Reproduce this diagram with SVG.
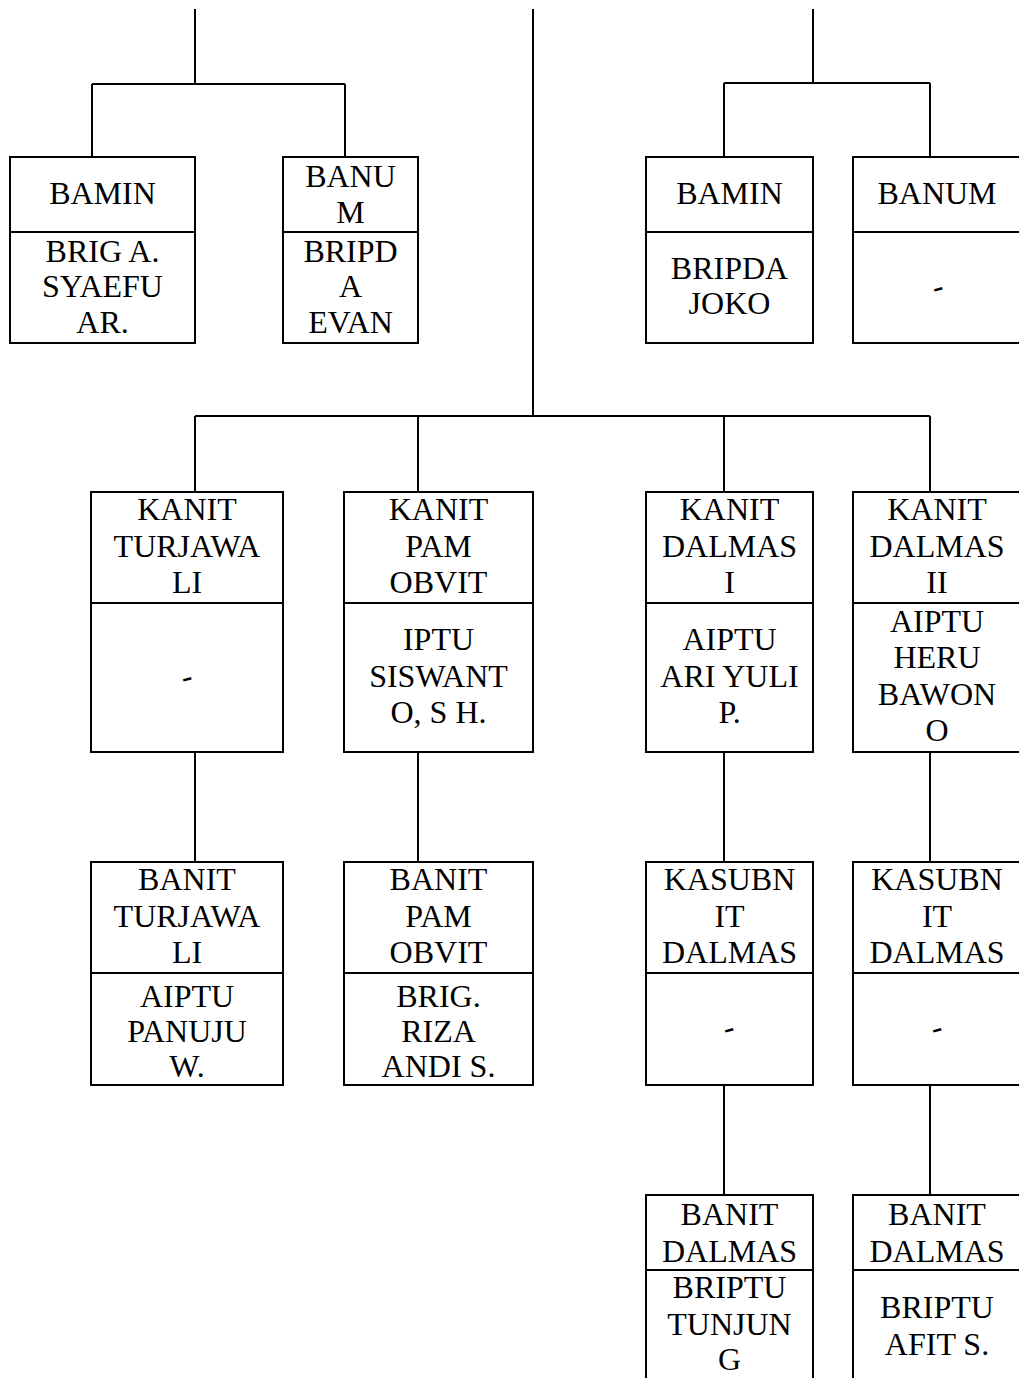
<svg xmlns="http://www.w3.org/2000/svg" width="1019" height="1378" viewBox="0 0 1019 1378">
<style>
.b{fill:#fff;stroke:#000;stroke-width:2}
.d{stroke:#000;stroke-width:2}
.c{fill:none;stroke:#000;stroke-width:2}
text{font-family:"Liberation Serif","Times New Roman",serif;font-size:32px;fill:#000;text-anchor:middle}
.dash{font-style:italic}
</style>
<rect width="1019" height="1378" fill="#fff"/>
<g id="connectors">
<path class="c" d="M195 9V84M92 84H345M92 84V157M345 84V157"/>
<path class="c" d="M533 9V416"/>
<path class="c" d="M813 9V83M724 83H930M724 83V157M930 83V157"/>
<path class="c" d="M195 416H930M195 416V492M418 416V492M724 416V492M930 416V492"/>
<path class="c" d="M195 752V862M418 752V862M724 752V862M930 752V862"/>
<path class="c" d="M724 1085V1195M930 1085V1195"/>
</g>
<g id="n1">
<rect class="b" x="10" y="157" width="185" height="186"/><line class="d" x1="10" y1="232" x2="195" y2="232"/>
<text x="102.5" y="204">BAMIN</text>
<text x="102.5" y="262">BRIG A.</text><text x="102.5" y="297">SYAEFU</text><text x="102.5" y="333">AR.</text>
</g>
<g id="n2">
<rect class="b" x="283" y="157" width="135" height="186"/><line class="d" x1="283" y1="232" x2="418" y2="232"/>
<text x="350.5" y="187">BANU</text><text x="350.5" y="223">M</text>
<text x="350.5" y="262">BRIPD</text><text x="350.5" y="297">A</text><text x="350.5" y="333">EVAN</text>
</g>
<g id="n3">
<rect class="b" x="646" y="157" width="167" height="186"/><line class="d" x1="646" y1="232" x2="813" y2="232"/>
<text x="729.5" y="204">BAMIN</text>
<text x="729.5" y="279">BRIPDA</text><text x="729.5" y="314">JOKO</text>
</g>
<g id="n4">
<rect class="b" x="853" y="157" width="170" height="186"/><line class="d" x1="853" y1="232" x2="1023" y2="232"/>
<text x="937" y="204">BANUM</text>
<text class="dash" x="938" y="297" transform="rotate(-15 938 289)">-</text>
</g>
<g id="n5">
<rect class="b" x="91" y="492" width="192" height="260"/><line class="d" x1="91" y1="603" x2="283" y2="603"/>
<text x="187" y="520">KANIT</text><text x="187" y="557">TURJAWA</text><text x="187" y="593">LI</text>
<text class="dash" x="187" y="687" transform="rotate(-15 187 679)">-</text>
</g>
<g id="n6">
<rect class="b" x="344" y="492" width="189" height="260"/><line class="d" x1="344" y1="603" x2="533" y2="603"/>
<text x="438.5" y="520">KANIT</text><text x="438.5" y="557">PAM</text><text x="438.5" y="593">OBVIT</text>
<text x="438.5" y="650">IPTU</text><text x="438.5" y="687">SISWANT</text><text x="438.5" y="723">O, S H.</text>
</g>
<g id="n7">
<rect class="b" x="646" y="492" width="167" height="260"/><line class="d" x1="646" y1="603" x2="813" y2="603"/>
<text x="729.5" y="520">KANIT</text><text x="729.5" y="557">DALMAS</text><text x="729.5" y="593">I</text>
<text x="729.5" y="650">AIPTU</text><text x="729.5" y="687">ARI YULI</text><text x="729.5" y="723">P.</text>
</g>
<g id="n8">
<rect class="b" x="853" y="492" width="170" height="260"/><line class="d" x1="853" y1="603" x2="1023" y2="603"/>
<text x="937" y="520">KANIT</text><text x="937" y="557">DALMAS</text><text x="937" y="593">II</text>
<text x="937" y="632">AIPTU</text><text x="937" y="668">HERU</text><text x="937" y="705">BAWON</text><text x="937" y="741">O</text>
</g>
<g id="n9">
<rect class="b" x="91" y="862" width="192" height="223"/><line class="d" x1="91" y1="973" x2="283" y2="973"/>
<text x="187" y="890">BANIT</text><text x="187" y="927">TURJAWA</text><text x="187" y="963">LI</text>
<text x="187" y="1007">AIPTU</text><text x="187" y="1042">PANUJU</text><text x="187" y="1077">W.</text>
</g>
<g id="n10">
<rect class="b" x="344" y="862" width="189" height="223"/><line class="d" x1="344" y1="973" x2="533" y2="973"/>
<text x="438.5" y="890">BANIT</text><text x="438.5" y="927">PAM</text><text x="438.5" y="963">OBVIT</text>
<text x="438.5" y="1007">BRIG.</text><text x="438.5" y="1042">RIZA</text><text x="438.5" y="1077">ANDI S.</text>
</g>
<g id="n11">
<rect class="b" x="646" y="862" width="167" height="223"/><line class="d" x1="646" y1="973" x2="813" y2="973"/>
<text x="729.5" y="890">KASUBN</text><text x="729.5" y="927">IT</text><text x="729.5" y="963">DALMAS</text>
<text class="dash" x="729" y="1038" transform="rotate(-15 729 1030)">-</text>
</g>
<g id="n12">
<rect class="b" x="853" y="862" width="170" height="223"/><line class="d" x1="853" y1="973" x2="1023" y2="973"/>
<text x="937" y="890">KASUBN</text><text x="937" y="927">IT</text><text x="937" y="963">DALMAS</text>
<text class="dash" x="937" y="1038" transform="rotate(-15 937 1030)">-</text>
</g>
<g id="n13">
<rect class="b" x="646" y="1195" width="167" height="200"/><line class="d" x1="646" y1="1270" x2="813" y2="1270"/>
<text x="729.5" y="1225">BANIT</text><text x="729.5" y="1262">DALMAS</text>
<text x="729.5" y="1298">BRIPTU</text><text x="729.5" y="1335">TUNJUN</text><text x="729.5" y="1370">G</text>
</g>
<g id="n14">
<rect class="b" x="853" y="1195" width="170" height="200"/><line class="d" x1="853" y1="1270" x2="1023" y2="1270"/>
<text x="937" y="1225">BANIT</text><text x="937" y="1262">DALMAS</text>
<text x="937" y="1318">BRIPTU</text><text x="937" y="1355">AFIT S.</text>
</g>
</svg>
